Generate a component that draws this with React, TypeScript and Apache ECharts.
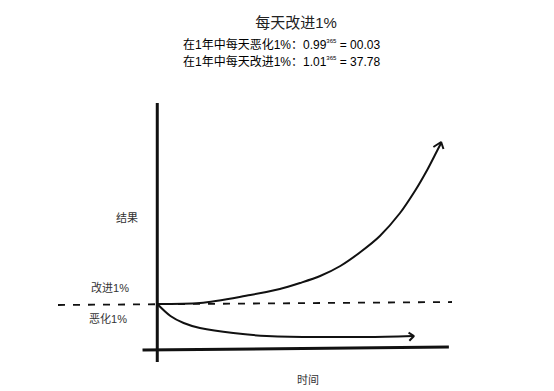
import React, { useEffect, useRef } from "react";
import * as echarts from "echarts";

// x: days (0 = start of year), y: relative result (0 = baseline)
const growthX = [0, 55, 120, 158, 184, 210, 236, 262, 287, 313, 333, 348, 358, 366];
const growthY = [0, 1, 9, 15, 21, 28, 38, 52, 68, 91, 114, 134, 149, 161];
const decayX = [0, 17, 34, 55, 98, 141, 206, 270, 330];
const decayY = [0, -12, -19, -24, -29, -32, -33, -33, -32];
const growthArrowX = [356, 366, 369];
const growthArrowY = [157, 162, 155];
const decayArrowX = [324, 331, 325];
const decayArrowY = [-28.7, -32, -36.7];
const baselineX = [-128, 380];
const baselineY = [-1, 2];
const vAxisX = [0, 0];
const vAxisY = [-58, 201];
const hAxisX = [-19, 376];
const hAxisY = [-46, -43];

const titleText = "每天改进1%";
const subLine1 = ["在1年中每天恶化1%：0.99", "365", " = 00.03"];
const subLine2 = ["在1年中每天改进1%：1.01", "365", " = 37.78"];
const yName = "结果";
const upLabel = "改进1%";
const downLabel = "恶化1%";
const xName = "时间";

const FONT = "'Liberation Sans', 'Noto Sans CJK SC', sans-serif";

const pairs = (xs: number[], ys: number[]) => xs.map((x, i) => [x, ys[i]]);

export default function App() {
  const ref = useRef<HTMLDivElement>(null);
  useEffect(() => {
    if (!ref.current) return;
    const chart = echarts.init(ref.current, undefined, { renderer: "svg" });
    const line = (data: number[][], width: number, extra: any = {}) => ({
      type: "line",
      data,
      symbol: "none",
      silent: true,
      lineStyle: { color: "#111", width, ...extra },
    });
    const rich = {
      n: { fontSize: 12, fontFamily: FONT, color: "#222", lineHeight: 14 },
      s: { fontSize: 6, fontFamily: FONT, color: "#333", lineHeight: 14, verticalAlign: "top" },
    };
    const sub = (parts: string[]) => `{n|${parts[0]}}{s|${parts[1]}}{n|${parts[2]}}`;
    const labelStyle = (text: string) => ({
      text,
      fontSize: 11,
      fontFamily: FONT,
      fill: "#333",
      textAlign: "center",
      textVerticalAlign: "middle",
    });
    chart.setOption({
      animation: false,
      backgroundColor: "#fff",
      grid: { left: 58, top: 103, width: 394, height: 259 },
      xAxis: { type: "value", min: -128, max: 380, show: false },
      yAxis: { type: "value", min: -58, max: 201, show: false },
      series: [
        line(pairs(vAxisX, vAxisY), 3),
        line(pairs(hAxisX, hAxisY), 3),
        line(pairs(baselineX, baselineY), 1.8, { type: [7, 8] }),
        { ...line(pairs(growthX, growthY), 2), smooth: 0.3 },
        { ...line(pairs(decayX, decayY), 2), smooth: 0.3 },
        line(pairs(growthArrowX, growthArrowY), 2),
        line(pairs(decayArrowX, decayArrowY), 2),
      ],
      graphic: [
        {
          type: "text",
          x: 296,
          y: 22,
          style: {
            text: titleText,
            fontSize: 15,
            fontFamily: FONT,
            fill: "#222",
            textAlign: "center",
            textVerticalAlign: "middle",
          },
        },
        {
          type: "text",
          x: 183,
          y: 38,
          style: { text: sub(subLine1), rich, textVerticalAlign: "top" },
        },
        {
          type: "text",
          x: 183,
          y: 55,
          style: { text: sub(subLine2), rich, textVerticalAlign: "top" },
        },
        { type: "text", x: 127, y: 218, style: labelStyle(yName) },
        { type: "text", x: 110, y: 288, style: labelStyle(upLabel) },
        { type: "text", x: 108, y: 319, style: labelStyle(downLabel) },
        { type: "text", x: 308, y: 380, style: labelStyle(xName) },
      ],
    });
    return () => chart.dispose();
  }, []);
  return (
    <div
      ref={ref}
      style={{ position: "absolute", left: 0, top: 0, width: 554, height: 391 }}
    />
  );
}
